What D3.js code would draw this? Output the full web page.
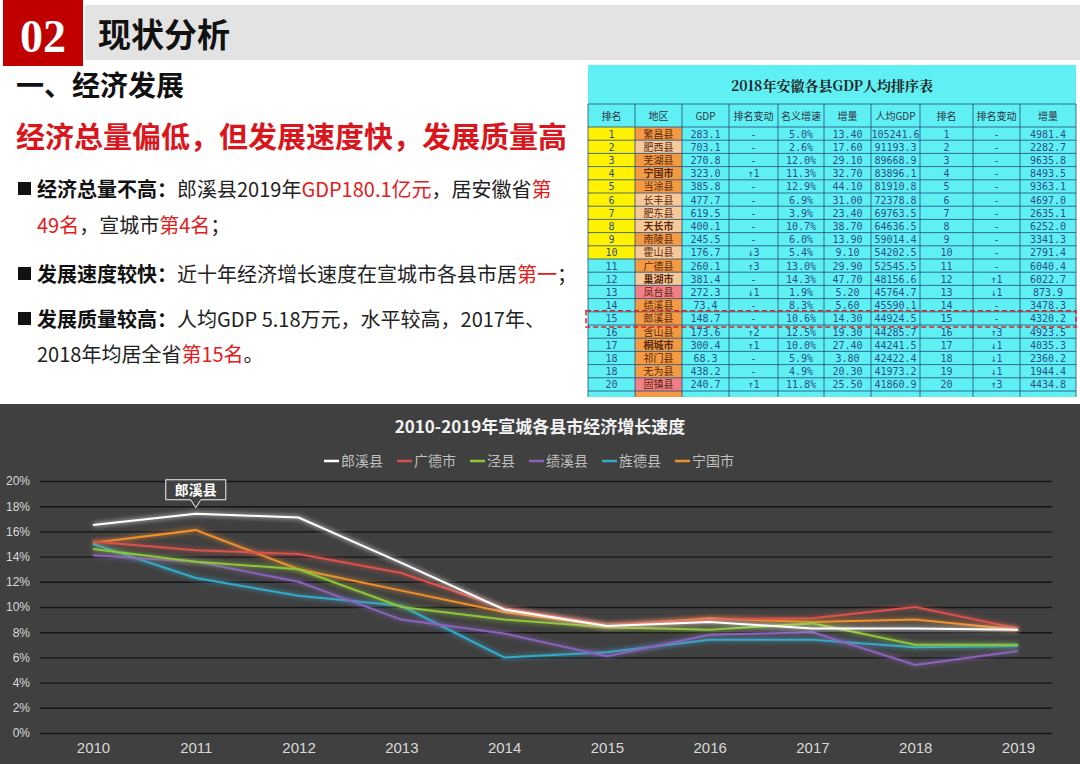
<!DOCTYPE html>
<html><head><meta charset="utf-8">
<script src="https://cdn.jsdelivr.net/npm/d3@7"></script>
<style>
body{margin:0;background:#fff;font-family:"Noto Sans CJK SC","Noto Sans",sans-serif}
</style></head>
<body><svg id="slide" width="1080" height="764"></svg>
<script>
// chart data
const years = ['2010','2011','2012','2013','2014','2015','2016','2017','2018','2019'];
const seriesNames = ['郎溪县','广德市','泾县','绩溪县','旌德县','宁国市'];
const seriesColors = ['#ffffff','#d9524a','#8fc43a','#8a63b8','#36a9c9','#f0902e'];
const langxi  = [16.5,17.4,17.1,13.5,9.8,8.5,8.8,8.3,8.3,8.2];
const guangde = [15.2,14.5,14.2,12.7,9.9,8.6,9.0,9.1,10.0,8.3];
const jingxian = [14.6,13.6,13.0,10.0,9.0,8.4,8.2,8.7,7.0,7.0];
const jixi    = [14.1,13.6,12.0,9.0,7.9,6.1,7.8,8.0,5.4,6.5];
const jingde  = [15.0,12.3,10.9,10.1,6.0,6.4,7.4,7.4,6.8,6.9];
const ningguo = [15.1,16.1,13.0,11.3,9.6,8.5,9.1,8.8,9.0,8.2];
const yTicks = [0,2,4,6,8,10,12,14,16,18,20];

// table data
const tableCols = ['排名','地区','GDP','排名变动','名义增速','增量','人均GDP','排名','排名变动','增量'];
const tRank = ['1','2','3','4','5','6','7','8','9','10','11','12','13','14','15','16','17','18','18','20'];
const tRegion = ['繁昌县','肥西县','芜湖县','宁国市','当涂县','长丰县','肥东县','天长市','南陵县','霍山县','广德县','巢湖市','凤台县','绩溪县','郎溪县','含山县','桐城市','祁门县','无为县','固镇县'];
const tRegionType = ['o','p','o','o','o','p','p','p','o','p','o','p','r','o','o','o','o','o','o','r'];
const tGdp = ['283.1','703.1','270.8','323.0','385.8','477.7','619.5','400.1','245.5','176.7','260.1','381.4','272.3','73.4','148.7','173.6','300.4','68.3','438.2','240.7'];
const tChg = ['-','-','-','↑1','-','-','-','-','-','↓3','↑3','-','↓1','-','-','↑2','↑1','-','-','↑1'];
const tGrow = ['5.0%','2.6%','12.0%','11.3%','12.9%','6.9%','3.9%','10.7%','6.0%','5.4%','13.0%','14.3%','1.9%','8.3%','10.6%','12.5%','10.0%','5.9%','4.9%','11.8%'];
const tInc = ['13.40','17.60','29.10','32.70','44.10','31.00','23.40','38.70','13.90','9.10','29.90','47.70','5.20','5.60','14.30','19.30','27.40','3.80','20.30','25.50'];
const tPc = ['105241.6','91193.3','89668.9','83896.1','81910.8','72378.8','69763.5','64636.5','59014.4','54202.5','52545.5','48156.6','45764.7','45590.1','44924.5','44285.7','44241.5','42422.4','41973.2','41860.9'];
const tRank2 = ['1','2','3','4','5','6','7','8','9','10','11','12','13','14','15','16','17','18','19','20'];
const tChg2 = ['-','-','-','-','-','-','-','-','-','-','-','↑1','↓1','-','-','↑3','↓1','↓1','↓1','↑3'];
const tInc2 = ['4981.4','2282.7','9635.8','8493.5','9363.1','4697.0','2635.1','6252.0','3341.3','2791.4','6040.4','6022.7','873.9','3478.3','4320.2','4923.5','4035.3','2360.2','1944.4','4434.8'];

const svg = d3.select('#slide');
const RED = '#d9161c';

// ---- header ----
svg.append('rect').attr('x',85).attr('y',5).attr('width',995).attr('height',55).attr('fill','#e3e3e3');
svg.append('rect').attr('x',3).attr('y',0).attr('width',80).attr('height',66).attr('fill','#c00000');
svg.append('text').attr('x',43).attr('y',52).attr('text-anchor','middle').attr('fill','#fff')
  .style('font-family','"Liberation Serif",serif').style('font-weight','bold').style('font-size','46px').text('02');
svg.append('text').attr('x',98).attr('y',47).attr('fill','#111').style('font-weight','bold').style('font-size','33px').text('现状分析');
svg.append('text').attr('x',16).attr('y',96).attr('fill','#111').style('font-weight','bold').style('font-size','28px').text('一、经济发展');
svg.append('text').attr('x',16).attr('y',148).attr('fill',RED).style('font-weight','bold').style('font-size','29px')
  .text('经济总量偏低，但发展速度快，发展质量高');

// bullet lines: [y, bullet, segments]
const bulletLines = [
  [197, true, [['经济总量不高：','#111',1],['郎溪县2019年','#222',0],['GDP180.1亿元','#e02020',0],['，居安徽省','#222',0],['第','#e02020',0]]],
  [233, false, [['49名','#e02020',0],['，宣城市','#222',0],['第4名','#e02020',0],['；','#222',0]]],
  [282, true, [['发展速度较快：','#111',1],['近十年经济增长速度在宣城市各县市居','#222',0],['第一','#e02020',0],['；','#222',0]]],
  [327, true, [['发展质量较高：','#111',1],['人均GDP 5.18万元，水平较高，2017年、','#222',0]]],
  [362, false, [['2018年均居全省','#222',0],['第15名','#e02020',0],['。','#222',0]]]
];
bulletLines.forEach(([y, bullet, segs]) => {
  if (bullet) svg.append('rect').attr('x',18).attr('y',y-15).attr('width',13).attr('height',13).attr('fill','#111');
  const t = svg.append('text').attr('x',37).attr('y',y).style('font-size','20px');
  segs.forEach(([s,c,b]) => t.append('tspan').attr('fill',c).style('font-weight',b?'bold':'normal').text(s));
});

// ---- table image ----
const tg = svg.append('g');
const colX = [588,635,682,729,778,824,871,920,973,1020,1076];
const tTop = 65, titleBottom = 104, headBottom = 127, rowH = 13.2;
const nRows = tRank.length;
const tBottom = headBottom + nRows*rowH + 6;
tg.append('rect').attr('x',588).attr('y',tTop).attr('width',488).attr('height',tBottom-tTop).attr('fill','#5ff0f4');
tg.append('text').attr('x',832).attr('y',91).attr('text-anchor','middle').attr('fill','#222')
  .style('font-family','"Noto Serif CJK SC","Noto Sans CJK SC",serif').style('font-weight','bold').style('font-size','14px').text('2018年安徽各县GDP人均排序表');
const regionFill = {o:'#f39a43', p:'#f7c898', r:'#f07f86'};
tRank.forEach((r,i) => {
  const y = headBottom + i*rowH;
  if (i < 10) tg.append('rect').attr('x',colX[0]).attr('y',y).attr('width',colX[1]-colX[0]).attr('height',rowH).attr('fill','#fff200');
  tg.append('rect').attr('x',colX[1]).attr('y',y).attr('width',colX[2]-colX[1]).attr('height',rowH).attr('fill',regionFill[tRegionType[i]]);
});
tg.append('rect').attr('x',colX[1]).attr('y',headBottom+nRows*rowH).attr('width',colX[2]-colX[1]).attr('height',6).attr('fill',regionFill.o);
colX.forEach(x => tg.append('line').attr('x1',x).attr('x2',x).attr('y1',titleBottom).attr('y2',tBottom).attr('stroke','#2a4a7a').attr('stroke-width',0.8));
tg.append('line').attr('x1',588).attr('x2',1076).attr('y1',titleBottom).attr('y2',titleBottom).attr('stroke','#2a4a7a').attr('stroke-width',0.8);
d3.range(nRows+1).forEach(i => tg.append('line').attr('x1',588).attr('x2',1076)
  .attr('y1',headBottom+i*rowH).attr('y2',headBottom+i*rowH).attr('stroke','#2a4a7a').attr('stroke-width',0.8));
tableCols.forEach((c,j) => tg.append('text').attr('x',(colX[j]+colX[j+1])/2).attr('y',120).attr('text-anchor','middle')
  .attr('fill','#334').style('font-size','10px').text(c));
const tColsData = [tRank,tRegion,tGdp,tChg,tGrow,tInc,tPc,tRank2,tChg2,tInc2];
tColsData.forEach((arr,j) => arr.forEach((v,i) => {
  const bold = j===1 && /市$/.test(v);
  tg.append('text').attr('x',(colX[j]+colX[j+1])/2).attr('y',headBottom+i*rowH+10.5).attr('text-anchor','middle')
    .attr('fill', j===1 ? '#5a2a10' : '#2b4f8a').style('font-size','10px').style('font-weight',bold?'bold':'normal')
    .style('font-family', j===1 ? '"Noto Sans CJK SC",sans-serif' : '"DejaVu Sans Mono",monospace').text(v);
}));
tg.append('rect').attr('x',586).attr('y',headBottom+14*rowH-1).attr('width',490).attr('height',rowH+3)
  .attr('fill','none').attr('stroke','#e02020').attr('stroke-width',1.5).attr('stroke-dasharray','5,3');

// ---- line chart ----
svg.append('rect').attr('x',0).attr('y',404).attr('width',1080).attr('height',360).attr('fill','#404040');
const defs = svg.append('defs');
const glow = defs.append('filter').attr('id','glow').attr('x','-10%').attr('y','-50%').attr('width','120%').attr('height','200%');
glow.append('feGaussianBlur').attr('in','SourceGraphic').attr('stdDeviation',2.5).attr('result','b');
const fm = glow.append('feMerge');
fm.append('feMergeNode').attr('in','b');
fm.append('feMergeNode').attr('in','SourceGraphic');

const x = d3.scalePoint().domain(years).range([93,1018]);
const y = d3.scaleLinear().domain([0,20]).range([733,481]);

svg.append('text').attr('x',540).attr('y',433).attr('text-anchor','middle').attr('fill','#f2f2f2')
  .style('font-weight','bold').style('font-size','17px').text('2010-2019年宣城各县市经济增长速度');

const yAxis = svg.append('g').attr('transform','translate(40,0)')
  .call(d3.axisLeft(y).tickValues(yTicks).tickSize(-1012).tickFormat(d => d + '%'));
yAxis.select('.domain').remove();
yAxis.selectAll('.tick line').attr('stroke','#151515').attr('stroke-width',1.4);
yAxis.selectAll('.tick text').attr('x',-10).attr('fill','#d9d9d9').style('font-size','12px').style('font-family','"Liberation Sans",sans-serif');

const xAxis = svg.append('g').attr('transform','translate(0,733)').call(d3.axisBottom(x).tickSize(0).tickPadding(9));
xAxis.select('.domain').remove();
xAxis.selectAll('.tick text').attr('fill','#d9d9d9').style('font-size','15px').style('font-family','"Liberation Sans",sans-serif');

const allSeries = [langxi,guangde,jingxian,jixi,jingde,ningguo];
const line = d3.line().x((d,i) => x(years[i])).y(d => y(d));
[5,4,3,2,1,0].forEach(k => {
  svg.append('path').datum(allSeries[k]).attr('d',line).attr('fill','none')
    .attr('stroke',seriesColors[k]).attr('stroke-width',2).attr('filter','url(#glow)');
});

// legend
const lg = svg.append('g');
let lx = 324;
seriesNames.forEach((n,k) => {
  lg.append('line').attr('x1',lx).attr('x2',lx+15).attr('y1',461).attr('y2',461).attr('stroke',seriesColors[k]).attr('stroke-width',2.5);
  const t = lg.append('text').attr('x',lx+17).attr('y',466).attr('fill','#bfbfbf').style('font-size','14px').text(n);
  lx += 17 + t.node().getComputedTextLength() + 14;
});

// callout
const cx = x('2011'), cy = y(langxi[1]);
svg.append('path').attr('d',`M${cx-30},${cy-34}h60v20h-25l-5,8l-5,-8h-25z`)
  .attr('fill','#404040').attr('stroke','#f2f2f2').attr('stroke-width',1);
svg.append('text').attr('x',cx).attr('y',cy-19).attr('text-anchor','middle').attr('fill','#fff')
  .style('font-weight','bold').style('font-size','14px').text('郎溪县');
</script></body></html>
